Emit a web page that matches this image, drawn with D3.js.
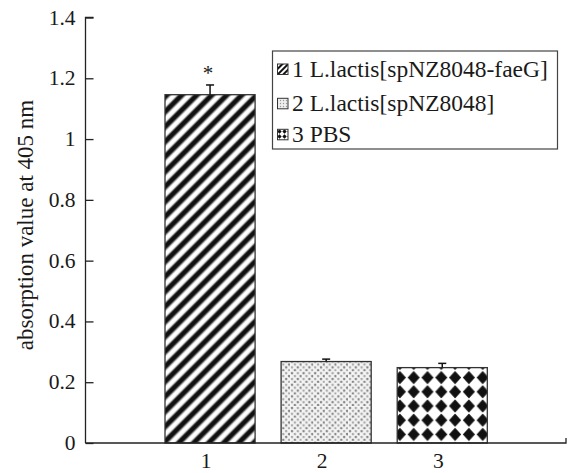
<!DOCTYPE html>
<html><head><meta charset="utf-8">
<script src="https://cdn.jsdelivr.net/npm/d3@7"></script>
<style>body{margin:0;background:#fff}svg{display:block}text{font-family:"Liberation Serif","Times New Roman",serif;fill:#1a1a1a}</style>
</head><body><div id="chart"></div>
<script>
const categories = ["1", "2", "3"];
const values = [1.146, 0.268, 0.248];
const errors = [0.032, 0.008, 0.014];
const yTicks = [0, 0.2, 0.4, 0.6, 0.8, 1, 1.2, 1.4];
const legendLabels = ["1 L.lactis[spNZ8048-faeG]", "2 L.lactis[spNZ8048]", "3 PBS"];
const patternIds = ["stripes", "dots", "diamonds"];
const yTitle = "absorption value at 405 nm";

const W = 568, H = 473;
const svg = d3.select("#chart").append("svg").attr("width", W).attr("height", H);
const defs = svg.append("defs");

// stripes
const grad = defs.append("linearGradient").attr("id","sg").attr("x1","0").attr("x2","1").attr("y1","0").attr("y2","0");
[[0,"#fff"],[0.12,"#fff"],[0.32,"#111"],[0.62,"#111"],[0.82,"#fff"],[1,"#fff"]].forEach(s=>grad.append("stop").attr("offset",s[0]).attr("stop-color",s[1]));
const ps = defs.append("pattern").attr("id","stripes").attr("patternUnits","userSpaceOnUse")
  .attr("width",10.6).attr("height",10.6).attr("patternTransform","rotate(45)");
ps.append("rect").attr("width",10.6).attr("height",10.6).attr("fill","url(#sg)");
const psl = defs.append("pattern").attr("id","stripesL").attr("patternUnits","userSpaceOnUse")
  .attr("width",4).attr("height",4).attr("patternTransform","rotate(45)");
psl.append("rect").attr("width",4).attr("height",4).attr("fill","#fff");
psl.append("rect").attr("width",2).attr("height",4).attr("fill","#111");

// dots
const pd = defs.append("pattern").attr("id","dots").attr("patternUnits","userSpaceOnUse").attr("width",11.6).attr("height",11.6);
pd.append("rect").attr("width",11.6).attr("height",11.6).attr("fill","#f5f5f5");
[[2,2,"#888"],[7.8,2,"#aaa"],[4.9,4.9,"#aaa"],[10.7,4.9,"#888"],[2,7.8,"#aaa"],[7.8,7.8,"#888"],[4.9,10.7,"#888"],[10.7,10.7,"#aaa"]]
  .forEach(d=>pd.append("circle").attr("cx",d[0]).attr("cy",d[1]).attr("r",1.3).attr("fill",d[2]));
const pdl = defs.append("pattern").attr("id","dotsL").attr("patternUnits","userSpaceOnUse").attr("width",3).attr("height",3);
pdl.append("rect").attr("width",3).attr("height",3).attr("fill","#eee");
pdl.append("circle").attr("cx",1.5).attr("cy",1.5).attr("r",0.7).attr("fill","#999");

// diamonds
const pm = defs.append("pattern").attr("id","diamonds").attr("patternUnits","userSpaceOnUse")
  .attr("width",13.8).attr("height",14.2).attr("x",393).attr("y",370.5);
pm.append("rect").attr("width",13.8).attr("height",14.2).attr("fill","#fff");
pm.append("path").attr("d","M6.9,1.2 L12.4,7.1 L6.9,13 L1.4,7.1Z").attr("fill","#111")
  .attr("stroke","#111").attr("stroke-width",1).attr("stroke-linejoin","round");
const pml = defs.append("pattern").attr("id","diamondsL").attr("patternUnits","userSpaceOnUse").attr("width",5).attr("height",5).attr("x",277).attr("y",129);
pml.append("rect").attr("width",5).attr("height",5).attr("fill","#fff");
pml.append("path").attr("d","M2.5,0.3 L4.7,2.5 L2.5,4.7 L0.3,2.5Z").attr("fill","#111");

const y = d3.scaleLinear().domain([0,1.4]).range([443,17.5]);
const x = d3.scaleBand().domain(categories).range([165,487.3]).paddingInner(0.224).paddingOuter(0);
const axisX0 = 85.5, axisX1 = 566;

// bars
svg.selectAll("rect.bar").data(values).join("rect").attr("class","bar")
  .attr("x",(d,i)=>x(categories[i])).attr("width",x.bandwidth())
  .attr("y",d=>y(d)).attr("height",d=>y(0)-y(d))
  .attr("fill",(d,i)=>`url(#${patternIds[i]})`).attr("stroke","#333").attr("stroke-width",1.3);

// error bars
const eb = svg.selectAll("g.err").data(values).join("g").attr("class","err")
  .attr("transform",(d,i)=>`translate(${x(categories[i])+x.bandwidth()/2},0)`);
eb.append("line").attr("y1",d=>y(d)).attr("y2",(d,i)=>y(d+errors[i])).attr("stroke","#111").attr("stroke-width",1.5);
eb.append("line").attr("x1",-4).attr("x2",4).attr("y1",(d,i)=>y(d+errors[i])).attr("y2",(d,i)=>y(d+errors[i])).attr("stroke","#111").attr("stroke-width",1.5);

// significance
svg.append("text").attr("x",x("1")+x.bandwidth()/2-2).attr("y",y(values[0]+errors[0])-5).attr("text-anchor","middle")
  .style("font-size","21px").text("*");

// y axis
const yAxis = d3.axisRight(y).tickValues(yTicks).tickSize(8).tickFormat("");
const ga = svg.append("g").attr("transform",`translate(${axisX0},0)`).call(yAxis);
ga.select(".domain").attr("stroke","#222").attr("stroke-width",1.3).attr("d",`M8,${y(1.4)}H0V${y(0)}`);
ga.selectAll(".tick line").attr("stroke","#222").attr("stroke-width",1.3);
svg.selectAll("text.ytl").data(yTicks).join("text").attr("class","ytl")
  .attr("x",axisX0-10).attr("y",d=>y(d)+7).attr("text-anchor","end").style("font-size","21.5px").text(d=>d3.format("")(d));

// x axis
svg.append("path").attr("d",`M${axisX0},${y(0)}H${axisX1}V${y(0)-5}`).attr("fill","none").attr("stroke","#222").attr("stroke-width",1.3);
svg.selectAll("text.xtl").data(categories).join("text").attr("class","xtl")
  .attr("x",d=>x(d)+x.bandwidth()/2-4).attr("y",468).attr("text-anchor","middle").style("font-size","21.5px").text(d=>d);

// y title
svg.append("text").attr("transform",`translate(33,225) rotate(-90)`).attr("text-anchor","middle")
  .style("font-size","23px").text(yTitle);

// legend
const lg = svg.append("g");
lg.append("rect").attr("x",272.5).attr("y",51).attr("width",285).attr("height",98).attr("fill","#fff").attr("stroke","#444").attr("stroke-width",1.2);
const legY = [64, 98.3, 129.3];
const lpat = ["stripesL","dotsL","diamondsL"];
legendLabels.forEach((t,i)=>{
  lg.append("rect").attr("x",277.5).attr("y",legY[i]).attr("width",10.5).attr("height",10.5)
    .attr("fill",`url(#${lpat[i]})`).attr("stroke","#333").attr("stroke-width",1);
  lg.append("text").attr("x",292).attr("y",legY[i]+12.5).style("font-size","23.5px").text(t);
});
</script></body></html>
